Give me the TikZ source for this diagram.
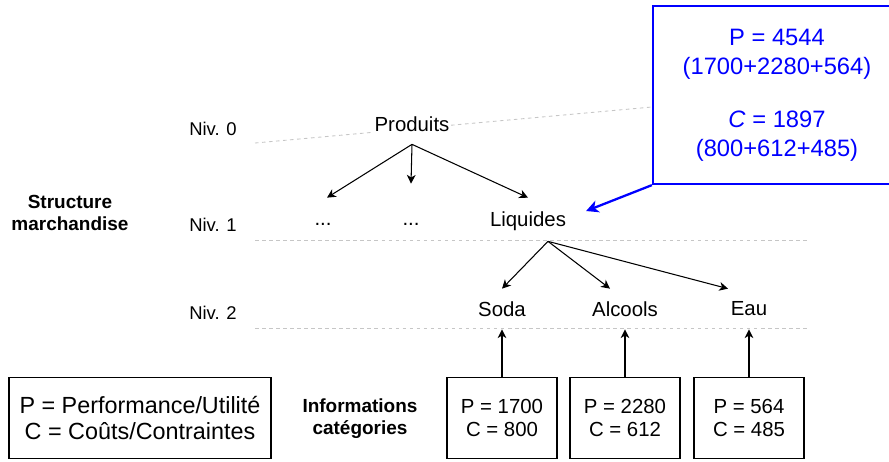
\documentclass[tikz,border=0pt]{standalone}
\usepackage{fontspec}
\setmainfont{Liberation Sans}
\usetikzlibrary{arrows.meta,positioning,calc}

\begin{document}
\begin{tikzpicture}[
    x=0.02cm, y=-0.02cm,
    % Styles
    level/.style={font=\fontsize{10.5}{12.5}\selectfont},
    heading/.style={
        font=\bfseries\fontsize{10.8}{12.5}\selectfont,
        align=center
    },
    category/.style={
        font=\fontsize{11.6}{14}\selectfont,
        minimum height=0.8cm,
        inner xsep=1pt
    },
    infobox/.style={
        rectangle,
        draw,
        line width=0.6pt,
        minimum width=2.2cm,
        minimum height=1.62cm,
        align=center,
        font=\fontsize{11.6}{13}\selectfont
    },
    totalbox/.style={
        rectangle,
        draw=blue,
        line width=1.3pt,
        text=blue,
        minimum width=4.96cm,
        minimum height=3.56cm,
        align=center,
        font=\fontsize{13.5}{16.4}\selectfont
    },
    guide/.style={draw=gray!45, dash pattern=on 2pt off 2pt, line width=0.5pt},
    line/.style={-{Stealth[length=5pt, width=5pt, inset=1.5pt]}, line width=0.6pt},
    blueline/.style={draw=blue, -{Stealth[length=7pt, width=7pt, inset=2pt]}, line width=1.3pt}
]

\clip (0,0) rectangle (889,461);

% Level labels
\node[heading] (structure) at (70,213) {Structure\\marchandise};
\node[level] (niv0) at (213,129) {Niv. 0};
\node[level] (niv1) at (213,225) {Niv. 1};
\node[level] (niv2) at (213,313) {Niv. 2};

% Total box
\node[totalbox] (total) at (777,95) {P = 4544\\(1700+2280+564)\\[14pt]
    \textit{C} = 1897\\(800+612+485)};

% Level separators
\coordinate (g0a) at (255,143);
\coordinate (g0b) at ([yshift=-0.24cm]total.west);
\coordinate (g1a) at (255,240);
\coordinate (g1b) at (810,240);
\coordinate (g2a) at (255,328);
\coordinate (g2b) at (810,328);
\draw[guide] (g0a) -- (g0b);
\draw[guide] (g1a) -- (g1b);
\draw[guide] (g2a) -- (g2b);

% Tree
\node[category, fill=white] (produits) at (412,124) {Produits};
\node[category] (dots1) at (323,224) {...};
\node[category] (dots2) at (411,224) {...};
\node[category] (liquides) at (528,221) {Liquides};
\node[category] (soda) at (502,309) {Soda};
\node[category] (alcools) at (625,309) {Alcools};
\node[category] (eau) at (749,309) {Eau};

\draw[line] (produits.south) -- ($(dots1.north)+(4,-6)$);
\draw[line] (produits.south) -- ($(dots2.north)+(0,-20)$);
\draw[line] (produits.south) -- ($(liquides.north)+(0,-3)$);
\draw[line] ($(liquides.south)+(20,0)$) -- (soda.north);
\draw[line] ($(liquides.south)+(20,0)$) -- ($(alcools.north)+(-15,0)$);
\draw[line] ($(liquides.south)+(20,0)$) -- ($(eau.north)+(-21,0)$);

\draw[blueline] (total.south west) -- ($(liquides.east)+(18,-10)$);

% Bottom row
\node[infobox, minimum width=5.24cm, font=\fontsize{13.3}{14.7}\selectfont]
    (legend) at (140,418) {P = Performance/Utilité\\C = Coûts/Contraintes};
\node[heading] (infos) at (360,419) {Informations\\catégories};
\node[infobox] (infosoda) at (502,418) {P = 1700\\C = 800};
\node[infobox] (infoalcools) at (625,418) {P = 2280\\C = 612};
\node[infobox] (infoeau) at (749,418) {P = 564\\C = 485};

\draw[line] (infosoda.north) -- (soda.south);
\draw[line] (infoalcools.north) -- (alcools.south);
\draw[line] (infoeau.north) -- (eau.south);

\end{tikzpicture}
\end{document}
